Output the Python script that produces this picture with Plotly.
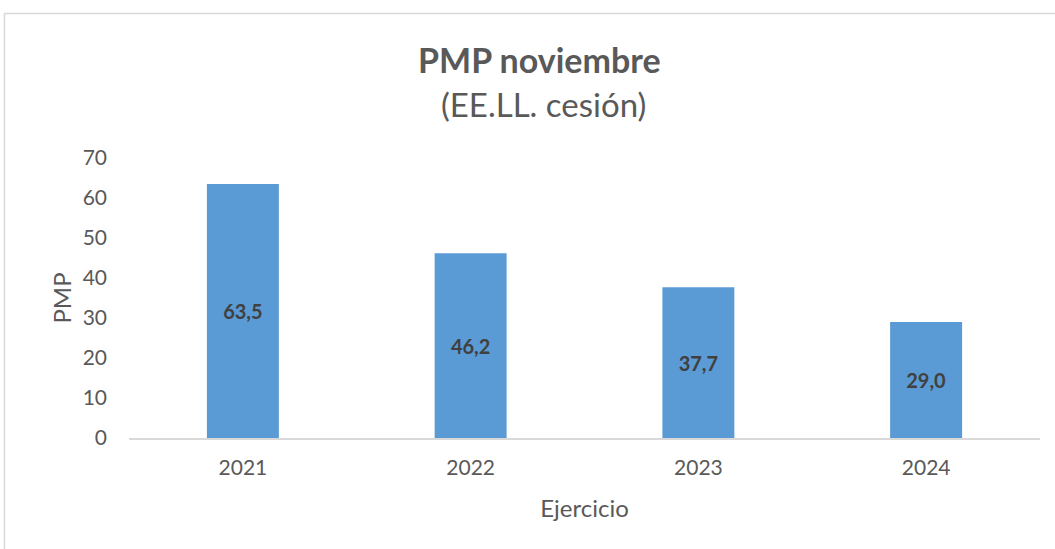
import plotly.graph_objects as go

years = ["2021", "2022", "2023", "2024"]
pmp = [63.5, 46.2, 37.7, 29.0]
labels = ["63,5", "46,2", "37,7", "29,0"]
y_ticks = [0, 10, 20, 30, 40, 50, 60, 70]

FONT = "Lato"
GREY = "#595959"

fig = go.Figure()
fig.add_trace(go.Bar(
    x=years, y=pmp, text=labels, textposition="inside", insidetextanchor="middle",
    textfont=dict(family=FONT, size=20, color="#404040", weight="bold"),
    marker=dict(color="#5B9BD5", line=dict(width=0)),
    hoverinfo="skip",
))

fig.update_layout(
    width=1055, height=549,
    margin=dict(l=129, r=15, t=158, b=111),
    paper_bgcolor="white", plot_bgcolor="white",
    bargap=0.684,
    showlegend=False,
    font=dict(family=FONT, color=GREY),
    xaxis=dict(
        type="category", showline=True, linecolor="#D9D9D9", linewidth=1.5,
        ticks="", tickfont=dict(size=21, color=GREY), ticklabelstandoff=10,
        title=dict(text="Ejercicio", font=dict(size=24, color=GREY), standoff=22),
        showgrid=False,
    ),
    yaxis=dict(
        range=[0, 70], tickvals=y_ticks, showgrid=False, zeroline=False,
        ticks="", tickfont=dict(size=21, color=GREY), ticklabelstandoff=21,
        title=dict(text="PMP", font=dict(size=24, color=GREY), standoff=4),
    ),
    uniformtext=dict(minsize=10, mode="show"),
)

fig.add_annotation(text="<b>PMP noviembre</b>", xref="paper", yref="paper",
                   x=0.451, y=1.35, yanchor="middle", showarrow=False,
                   font=dict(family=FONT, size=34, color=GREY))
fig.add_annotation(text="(EE.LL. cesión)", xref="paper", yref="paper",
                   x=0.455, y=1.192, yanchor="middle", showarrow=False,
                   font=dict(family=FONT, size=33, color=GREY))

fig.add_shape(type="rect", xref="paper", yref="paper",
              x0=-0.1367, x1=1.2, y0=-0.6, y1=1.516,
              line=dict(color="#D9D9D9", width=1.5), layer="below")

fig.write_html("out.html", config={"displayModeBar": False},
               post_script="document.body.style.margin='0';")
